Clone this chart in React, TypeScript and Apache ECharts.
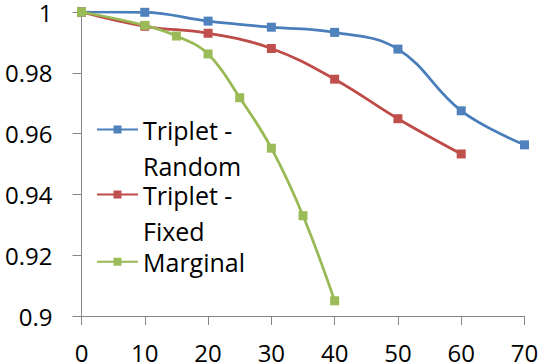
import React, { useEffect, useRef } from "react";
import * as echarts from "echarts";

const seriesNames = ["Triplet - Random", "Triplet - Fixed", "Marginal"];
const legendLabels = ["\nTriplet -\nRandom", "\nTriplet -\nFixed", "Marginal"];

const xRandom = [0, 10, 20, 30, 40, 50, 60, 70];
const yRandom = [1.0, 0.9999, 0.997, 0.995, 0.9933, 0.9878, 0.9675, 0.9563];

const xFixed = [0, 10, 20, 30, 40, 50, 60];
const yFixed = [1.0, 0.9953, 0.993, 0.988, 0.9779, 0.9649, 0.9533];

const xMarginal = [0, 10, 15, 20, 25, 30, 35, 40];
const yMarginal = [1.0, 0.9956, 0.9921, 0.9862, 0.9718, 0.9552, 0.933, 0.905];

const lineColors = ["#4A7EBB", "#BE4B48", "#98B954"];
const markerColors = ["#4F81BD", "#C0504D", "#9BBB59"];

const FONT = "'Open Sans', 'Liberation Sans', sans-serif";

export default function App() {
  const ref = useRef<HTMLDivElement>(null);
  useEffect(() => {
    if (!ref.current) return;
    const chart = echarts.init(ref.current, null, { renderer: "svg" });
    const xs = [xRandom, xFixed, xMarginal];
    const ys = [yRandom, yFixed, yMarginal];
    const L = 36.7;
    const legendTops = [129.5 - 1.5 * L, 194.5 - 1.5 * L, 261.7 - L / 2];
    const axisCommon = {
      axisLine: { show: true, lineStyle: { color: "#868686", width: 1 } },
      axisTick: { show: true, length: 9, lineStyle: { color: "#868686", width: 1 } },
      splitLine: { show: false },
    };
    chart.setOption({
      animation: false,
      backgroundColor: "#ffffff",
      grid: { left: 81.5, right: 17.5, top: 11.7, bottom: 46.7, containLabel: false },
      xAxis: {
        type: "value",
        min: 0,
        max: 70,
        interval: 10,
        ...axisCommon,
        axisLabel: {
          color: "#000",
          fontFamily: FONT,
          fontSize: 24,
          lineHeight: 20,
          margin: 26,
        },
      },
      yAxis: {
        type: "value",
        min: 0.9,
        max: 1,
        interval: 0.02,
        ...axisCommon,
        axisLabel: {
          color: "#000",
          fontFamily: FONT,
          fontSize: 24,
          lineHeight: 20,
          margin: 29,
          formatter: (v: number) => String(+v.toFixed(2)),
        },
      },
      legend: seriesNames.map((name, i) => ({
        show: true,
        left: 96,
        top: legendTops[i],
        padding: 0,
        orient: "vertical",
        itemWidth: 41,
        itemHeight: 10,
        selectedMode: false,
        data: [name],
        formatter: () => legendLabels[i],
        textStyle: {
          color: "#000",
          fontFamily: FONT,
          fontSize: 25,
          lineHeight: L,
        },
      })),
      series: seriesNames.map((name, i) => ({
        name,
        type: "line",
        smooth: 0.4,
        symbol: "rect",
        symbolSize: 9,
        data: xs[i].map((x, j) => [x, ys[i][j]]),
        lineStyle: { color: lineColors[i], width: 2.75 },
        itemStyle: { color: markerColors[i] },
      })),
    });
    return () => chart.dispose();
  }, []);
  return <div ref={ref} style={{ width: 542, height: 364, position: "absolute", left: 0, top: 0 }} />;
}
